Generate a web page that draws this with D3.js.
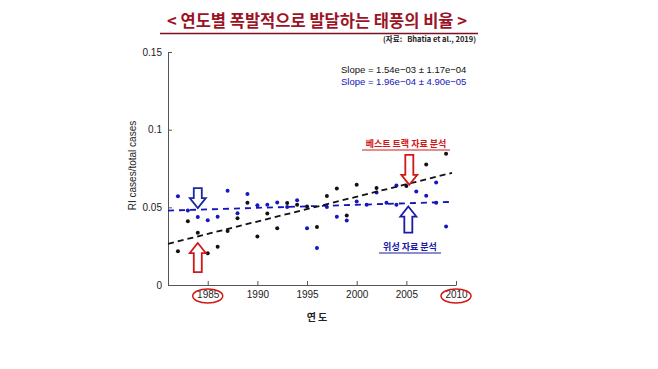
<!DOCTYPE html>
<html>
<head>
<meta charset="utf-8">
<script src="https://cdn.jsdelivr.net/npm/d3@7"></script>
<style>
  body { margin: 0; background: #fff; }
  svg { display: block; }
</style>
</head>
<body>
<div id="chart"></div>
<script>
// Best track (black) points
const blackYears = [1982, 1983, 1984, 1985, 1986, 1987, 1988, 1989, 1990, 1991, 1992, 1993, 1994, 1995,
  1996, 1997, 1998, 1999, 2000, 2002, 2005, 2007, 2009];
const blackValues = [0.0217, 0.041, 0.0337, 0.0204, 0.0247, 0.0348, 0.043, 0.053, 0.0312, 0.046, 0.0366,
  0.0528, 0.0516, 0.0506, 0.0373, 0.0573, 0.0622, 0.0448, 0.0645, 0.0624, 0.0637, 0.0776, 0.0845];

// Satellite (blue) points
const blueYears = [1982, 1983, 1984, 1985, 1986, 1987, 1988, 1989, 1990, 1991, 1992, 1993, 1994, 1995,
  1996, 1997, 1998, 1999, 2000, 2001, 2002, 2003, 2004, 2004, 2006, 2007, 2008, 2008, 2009];
const blueValues = [0.0572, 0.048, 0.0437, 0.0417, 0.044, 0.0606, 0.0462, 0.0586, 0.0514, 0.0517, 0.0531,
  0.0502, 0.0545, 0.0366, 0.0238, 0.0502, 0.044, 0.0416, 0.0538, 0.0516, 0.0595, 0.053, 0.064, 0.0516,
  0.0602, 0.0574, 0.066, 0.053, 0.0376];

// Trend lines (start/end year and value)
const trendYears = [1981, 2009.6];
const blackTrend = [0.0265, 0.0722];
const blueTrend = [0.0479, 0.0535];

const xTicks = [1985, 1990, 1995, 2000, 2005, 2010];
const yTicks = [0, 0.05, 0.1, 0.15];
const circledTicks = [1985, 2010];

const title = '< 연도별 폭발적으로 발달하는 태풍의 비율 >';
const source = '(자료:   Bhatia et al., 2019)';
const slopeTexts = ['Slope = 1.54e\u221203 \u00b1 1.17e\u221204', 'Slope = 1.96e\u221204 \u00b1 4.90e\u221205'];

const W = 658, H = 369;
const svg = d3.select('#chart').append('svg')
  .attr('width', W)
  .attr('height', H);

svg.append('rect').attr('width', W).attr('height', H).attr('fill', '#fff');

const x = d3.scaleLinear().domain([1981, 2010]).range([168, 456]);
const y = d3.scaleLinear().domain([0, 0.15]).range([285, 52]);

// Title
svg.append('text')
  .attr('x', 317)
  .attr('y', 27)
  .attr('text-anchor', 'middle')
  .attr('font-family', '"Noto Sans CJK KR", sans-serif')
  .attr('font-size', 16.5)
  .attr('font-weight', 'bold')
  .attr('fill', '#9c1326')
  .text(title);

svg.append('line')
  .attr('x1', 160).attr('x2', 478)
  .attr('y1', 33.5).attr('y2', 33.5)
  .attr('stroke', '#7a1020')
  .attr('stroke-width', 1.6);

svg.append('text')
  .attr('x', 476)
  .attr('y', 42)
  .attr('text-anchor', 'end')
  .attr('font-family', '"Noto Sans CJK KR", sans-serif')
  .attr('font-size', 7.5)
  .attr('font-weight', 'bold')
  .attr('fill', '#222')
  .attr('xml:space', 'preserve')
  .text(source);

// Axes
const gx = svg.append('g')
  .attr('transform', `translate(0,${y(0)})`)
  .call(d3.axisBottom(x).tickValues(xTicks).tickFormat(d3.format('d'))
    .tickSizeInner(-4).tickSizeOuter(0).tickPadding(6));

const gy = svg.append('g')
  .attr('transform', `translate(${x(1981)},0)`)
  .call(d3.axisLeft(y).tickValues(yTicks).tickFormat(d => String(d))
    .tickSizeInner(-4).tickSizeOuter(0).tickPadding(6));

[gx, gy].forEach(g => {
  g.selectAll('path, line').attr('stroke', '#555');
  g.selectAll('text')
    .attr('font-family', 'Liberation Sans, Arial, sans-serif')
    .attr('font-size', 10)
    .attr('fill', '#222');
});

// Axis titles
svg.append('text')
  .attr('transform', `translate(136,${y(0.075) - 3}) rotate(-90)`)
  .attr('text-anchor', 'middle')
  .attr('font-family', 'Liberation Sans, Arial, sans-serif')
  .attr('font-size', 10)
  .attr('fill', '#222')
  .text('RI cases/total cases');

svg.append('text')
  .attr('x', x(1996))
  .attr('y', 321)
  .attr('text-anchor', 'middle')
  .attr('font-family', '"Noto Sans CJK KR", sans-serif')
  .attr('font-size', 10)
  .attr('font-weight', 'bold')
  .attr('fill', '#222')
  .text('연 도');

// Red circles round tick labels
svg.selectAll('ellipse.tickmark')
  .data(circledTicks)
  .join('ellipse')
  .attr('cx', d => x(d))
  .attr('cy', 296)
  .attr('rx', 15)
  .attr('ry', 7)
  .attr('fill', 'none')
  .attr('stroke', '#d01818')
  .attr('stroke-width', 1.5);

// Points
svg.append('g').selectAll('circle')
  .data(blackYears.map((yr, i) => [yr, blackValues[i]]))
  .join('circle')
  .attr('cx', d => x(d[0]))
  .attr('cy', d => y(d[1]))
  .attr('r', 2)
  .attr('fill', '#111');

svg.append('g').selectAll('circle')
  .data(blueYears.map((yr, i) => [yr, blueValues[i]]))
  .join('circle')
  .attr('cx', d => x(d[0]))
  .attr('cy', d => y(d[1]))
  .attr('r', 2)
  .attr('fill', '#1616c4');

// Trend lines
const line = d3.line().x(d => x(d[0])).y(d => y(d[1]));

svg.append('path')
  .datum(trendYears.map((yr, i) => [yr, blueTrend[i]]))
  .attr('d', line)
  .attr('fill', 'none')
  .attr('stroke', '#1414b8')
  .attr('stroke-width', 1.8)
  .attr('stroke-dasharray', '6,5');

svg.append('path')
  .datum(trendYears.map((yr, i) => [yr, blackTrend[i]]))
  .attr('d', line)
  .attr('fill', 'none')
  .attr('stroke', '#111')
  .attr('stroke-width', 1.8)
  .attr('stroke-dasharray', '6,4');

// Slope texts
slopeTexts.forEach((t, i) => {
  svg.append('text')
    .attr('x', 341)
    .attr('y', 73 + i * 12)
    .attr('font-family', 'Liberation Sans, Arial, sans-serif')
    .attr('font-size', 9.5)
    .attr('fill', i === 0 ? '#111' : '#1414b8')
    .text(t);
});

// Hollow arrows: tip at (cx, tipY), pointing up or down
function arrow(cx, tipY, len, dir, color) {
  const hw = 8, sw = 4, hl = 10;
  const s = dir;  // +1 points down, -1 points up
  const base = tipY - s * hl;
  const end = tipY - s * len;
  const pts = [
    [cx, tipY], [cx + hw, base], [cx + sw, base], [cx + sw, end],
    [cx - sw, end], [cx - sw, base], [cx - hw, base]
  ];
  svg.append('polygon')
    .attr('points', pts.map(p => p.join(',')).join(' '))
    .attr('fill', '#fff')
    .attr('stroke', color)
    .attr('stroke-width', 1.8)
    .attr('stroke-linejoin', 'miter');
}

arrow(x(1984), y(0.0495), 20, 1, '#1a2a9a');
arrow(x(1984), y(0.027), 29, -1, '#d01818');
arrow(x(2005.3), y(0.0645), 30, 1, '#d01818');
arrow(x(2005.2), y(0.0505), 26, -1, '#1a1aa8');

// Annotation labels
function label(cx, baseline, txt, color, width) {
  svg.append('text')
    .attr('x', cx)
    .attr('y', baseline)
    .attr('text-anchor', 'middle')
    .attr('font-family', '"Noto Sans CJK KR", sans-serif')
    .attr('font-size', 9)
    .attr('font-weight', 'bold')
    .attr('fill', color)
    .text(txt);
  svg.append('line')
    .attr('x1', cx - width / 2).attr('x2', cx + width / 2)
    .attr('y1', baseline + 3).attr('y2', baseline + 3)
    .attr('stroke', color)
    .attr('stroke-width', 1);
}

label(406, 147, '베스트 트랙 자료 분석', '#d01818', 88);
label(410, 250, '위성 자료 분석', '#1a1aa8', 62);
</script>
</body>
</html>
